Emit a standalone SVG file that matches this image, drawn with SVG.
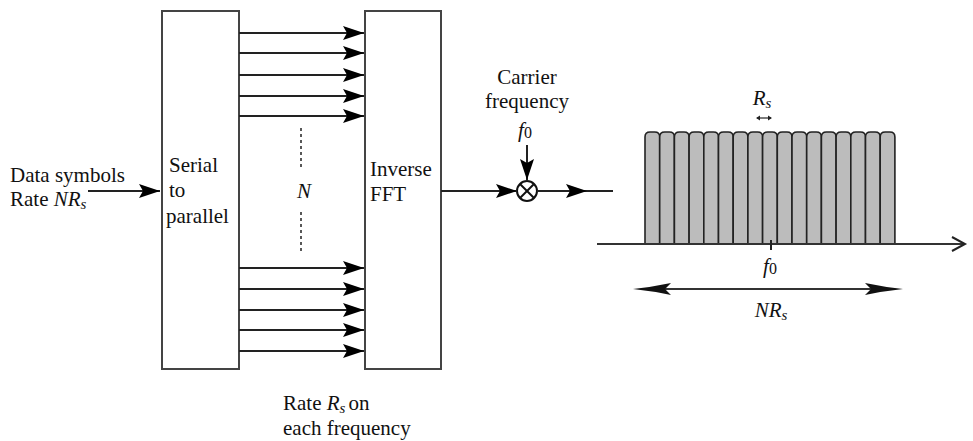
<svg xmlns="http://www.w3.org/2000/svg" width="973" height="441" viewBox="0 0 973 441">
<style>
.t{font-family:"Liberation Serif","Times New Roman",Tinos,"Nimbus Roman","Noto Serif","DejaVu Serif",FreeSerif,Times,serif;font-size:21px;fill:#111}
.i{font-style:italic}
.box{fill:#fff;stroke:#444;stroke-width:2}
.ln{stroke:#222;stroke-width:2;fill:none}
.bar{fill:#bcbcbc;stroke:#222;stroke-width:1.6}
</style>
<defs>
<marker id="ah" markerUnits="userSpaceOnUse" markerWidth="22" markerHeight="16" refX="21" refY="8" orient="auto">
<path d="M0,1 L21,8 L0,15 L4,8 Z" fill="#000"/>
</marker>
</defs>
<g id="serial">
<rect class="box" x="162" y="11" width="77" height="358"/>
<text class="t" x="169" y="172">Serial</text>
<text class="t" x="169" y="197">to</text>
<text class="t" x="166" y="223">parallel</text>
</g>
<g id="ifft">
<rect class="box" x="365" y="11" width="76" height="358"/>
<text class="t" x="370" y="176">Inverse</text>
<text class="t" x="370" y="201">FFT</text>
</g>
<g id="input">
<text class="t" x="10" y="182">Data symbols<tspan x="10" dy="24">Rate </tspan><tspan class="i">NR</tspan><tspan class="i" font-size="15" dy="3">s</tspan></text>
</g>
<g id="nlabel">
<line x1="301" y1="128" x2="301" y2="170" stroke="#222" stroke-width="1.5" stroke-dasharray="3,3"/>
<line x1="301" y1="212" x2="301" y2="253" stroke="#222" stroke-width="1.5" stroke-dasharray="3,3"/>
<text class="t i" x="304" y="198" text-anchor="middle" fill="#555">N</text>
</g>
<g id="mixer">
<circle cx="527" cy="191" r="10" fill="#fff" stroke="#111" stroke-width="2"/>
<line x1="520" y1="184" x2="534" y2="198" stroke="#111" stroke-width="2"/>
<line x1="534" y1="184" x2="520" y2="198" stroke="#111" stroke-width="2"/>
<text class="t" x="527" y="84" text-anchor="middle">Carrier</text>
<text class="t" x="527" y="108" text-anchor="middle">frequency</text>
<text class="t" x="525" y="137" text-anchor="middle"><tspan class="i">f</tspan><tspan font-size="16" dy="1">0</tspan></text>
</g>
<g id="connectors">
<line class="ln" x1="88" y1="191" x2="160" y2="191" marker-end="url(#ah)"/>
<line class="ln" x1="239" y1="33" x2="364" y2="33" marker-end="url(#ah)"/>
<line class="ln" x1="239" y1="53" x2="364" y2="53" marker-end="url(#ah)"/>
<line class="ln" x1="239" y1="75" x2="364" y2="75" marker-end="url(#ah)"/>
<line class="ln" x1="239" y1="96" x2="364" y2="96" marker-end="url(#ah)"/>
<line class="ln" x1="239" y1="116" x2="364" y2="116" marker-end="url(#ah)"/>
<line class="ln" x1="239" y1="268" x2="364" y2="268" marker-end="url(#ah)"/>
<line class="ln" x1="239" y1="289" x2="364" y2="289" marker-end="url(#ah)"/>
<line class="ln" x1="239" y1="310" x2="364" y2="310" marker-end="url(#ah)"/>
<line class="ln" x1="239" y1="330" x2="364" y2="330" marker-end="url(#ah)"/>
<line class="ln" x1="239" y1="351" x2="364" y2="351" marker-end="url(#ah)"/>
<line class="ln" x1="441" y1="191" x2="517" y2="191" marker-end="url(#ah)"/>
<line class="ln" x1="537" y1="191" x2="587" y2="191" marker-end="url(#ah)"/>
<line class="ln" x1="587" y1="191" x2="613" y2="191"/>
<line class="ln" x1="527" y1="145" x2="527" y2="180" marker-end="url(#ah)"/>
</g>
<g id="spectrum">
<path class="bar" d="M645,244 L645,137 Q645,132 650,132 L654.7,132 Q659.7,132 659.7,137 L659.7,244 Z"/>
<path class="bar" d="M659.7,244 L659.7,137 Q659.7,132 664.7,132 L669.4,132 Q674.4,132 674.4,137 L674.4,244 Z"/>
<path class="bar" d="M674.4,244 L674.4,137 Q674.4,132 679.4,132 L684.1,132 Q689.1,132 689.1,137 L689.1,244 Z"/>
<path class="bar" d="M689.1,244 L689.1,137 Q689.1,132 694.1,132 L698.8,132 Q703.8,132 703.8,137 L703.8,244 Z"/>
<path class="bar" d="M703.8,244 L703.8,137 Q703.8,132 708.8,132 L713.5,132 Q718.5,132 718.5,137 L718.5,244 Z"/>
<path class="bar" d="M718.5,244 L718.5,137 Q718.5,132 723.5,132 L728.2,132 Q733.2,132 733.2,137 L733.2,244 Z"/>
<path class="bar" d="M733.2,244 L733.2,137 Q733.2,132 738.2,132 L742.9,132 Q747.9,132 747.9,137 L747.9,244 Z"/>
<path class="bar" d="M747.9,244 L747.9,137 Q747.9,132 752.9,132 L757.6,132 Q762.6,132 762.6,137 L762.6,244 Z"/>
<path class="bar" d="M762.6,244 L762.6,137 Q762.6,132 767.6,132 L772.3,132 Q777.3,132 777.3,137 L777.3,244 Z"/>
<path class="bar" d="M777.3,244 L777.3,137 Q777.3,132 782.3,132 L787,132 Q792,132 792,137 L792,244 Z"/>
<path class="bar" d="M792,244 L792,137 Q792,132 797,132 L801.7,132 Q806.7,132 806.7,137 L806.7,244 Z"/>
<path class="bar" d="M806.7,244 L806.7,137 Q806.7,132 811.7,132 L816.4,132 Q821.4,132 821.4,137 L821.4,244 Z"/>
<path class="bar" d="M821.4,244 L821.4,137 Q821.4,132 826.4,132 L831.1,132 Q836.1,132 836.1,137 L836.1,244 Z"/>
<path class="bar" d="M836.1,244 L836.1,137 Q836.1,132 841.1,132 L845.8,132 Q850.8,132 850.8,137 L850.8,244 Z"/>
<path class="bar" d="M850.8,244 L850.8,137 Q850.8,132 855.8,132 L860.5,132 Q865.5,132 865.5,137 L865.5,244 Z"/>
<path class="bar" d="M865.5,244 L865.5,137 Q865.5,132 870.5,132 L875.2,132 Q880.2,132 880.2,137 L880.2,244 Z"/>
<path class="bar" d="M880.2,244 L880.2,137 Q880.2,132 885.2,132 L889.9,132 Q894.9,132 894.9,137 L894.9,244 Z"/>
<line x1="597" y1="244" x2="964" y2="244" stroke="#333" stroke-width="2"/>
<path d="M952,237 L965,244 L952,251" fill="none" stroke="#222" stroke-width="2"/>
<line x1="771" y1="240" x2="771" y2="250" stroke="#222" stroke-width="2"/>
<text class="t" x="770" y="273" text-anchor="middle"><tspan class="i">f</tspan><tspan font-size="16" dy="1">0</tspan></text>
<text class="t" x="762" y="105" text-anchor="middle"><tspan class="i">R</tspan><tspan class="i" font-size="15" dy="3">s</tspan></text>
<line x1="757" y1="118" x2="771" y2="118" stroke="#222" stroke-width="1.2"/>
<path d="M756,118 L760,115.5 L760,120.5 Z M772,118 L768,115.5 L768,120.5 Z" fill="#222"/>
<line x1="650" y1="289" x2="886" y2="289" stroke="#333" stroke-width="2"/>
<path d="M633,289 Q652,287 671,283 L665,289 L671,295 Q652,291 633,289 Z" fill="#111"/>
<path d="M903,289 Q884,287 865,283 L871,289 L865,295 Q884,291 903,289 Z" fill="#111"/>
<text class="t" x="771" y="317" text-anchor="middle"><tspan class="i">NR</tspan><tspan class="i" font-size="15" dy="3">s</tspan></text>
</g>
<g id="ratelabel">
<text class="t" x="283" y="410">Rate <tspan class="i">R</tspan><tspan class="i" font-size="15" dy="3">s</tspan><tspan dx="3" dy="-3">on</tspan><tspan x="283" dy="25">each frequency</tspan></text>
</g>
</svg>
